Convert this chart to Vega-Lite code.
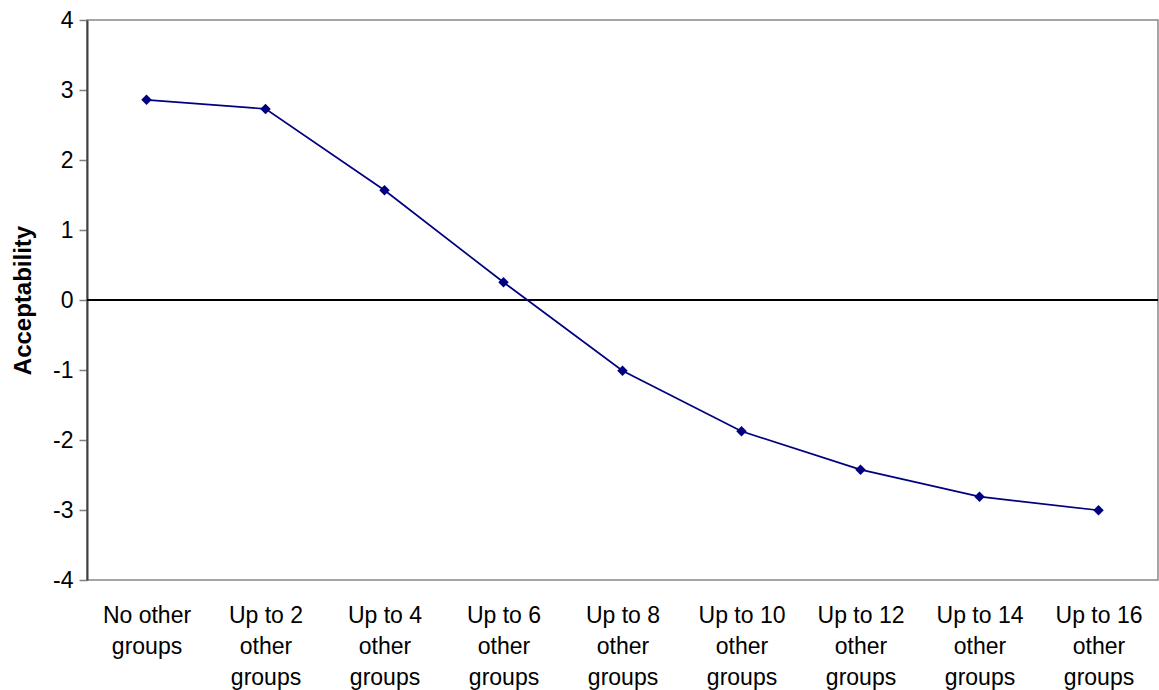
{
  "$schema": "https://vega.github.io/schema/vega-lite/v6.json",
  "autosize": {"type": "none"},
  "width": 1071,
  "height": 560,
  "padding": {"left": 87, "top": 20, "right": 1, "bottom": 110},
  "background": "white",
  "config": {
    "view": {"stroke": "#888888", "strokeWidth": 1.5},
    "font": "Liberation Sans"
  },
  "data": {
    "values": [
      {"group": "No other|groups", "acceptability": 2.86},
      {"group": "Up to 2|other|groups", "acceptability": 2.73},
      {"group": "Up to 4|other|groups", "acceptability": 1.567},
      {"group": "Up to 6|other|groups", "acceptability": 0.253},
      {"group": "Up to 8|other|groups", "acceptability": -1.01},
      {"group": "Up to 10|other|groups", "acceptability": -1.876},
      {"group": "Up to 12|other|groups", "acceptability": -2.424},
      {"group": "Up to 14|other|groups", "acceptability": -2.81},
      {"group": "Up to 16|other|groups", "acceptability": -3.004}
    ]
  },
  "layer": [
    {
      "mark": {"type": "rule", "color": "#000000", "strokeWidth": 1},
      "encoding": {"y": {"datum": 0, "type": "quantitative"}}
    },
    {
      "mark": {
        "type": "line",
        "color": "#000080",
        "strokeWidth": 1.7,
        "point": {"shape": "diamond", "size": 110, "filled": true, "color": "#000080"}
      },
      "encoding": {
        "x": {
          "field": "group",
          "type": "ordinal",
          "sort": null,
          "axis": {
            "title": null,
            "labelAngle": 0,
            "labelExpr": "split(datum.value, '|')",
            "labelFontSize": 23,
            "labelLineHeight": 31,
            "labelColor": "#000000",
            "labelPadding": 35,
            "labelBaseline": "middle",
            "ticks": false,
            "domain": false
          }
        },
        "y": {
          "field": "acceptability",
          "type": "quantitative",
          "scale": {"domain": [-4, 4], "nice": false, "zero": false},
          "axis": {
            "values": [-4, -3, -2, -1, 0, 1, 2, 3, 4],
            "labelExpr": "datum.value + ''",
            "grid": false,
            "labelFontSize": 23,
            "labelColor": "#000000",
            "labelPadding": 6,
            "tickSize": 8,
            "tickColor": "#808080",
            "tickWidth": 1.5,
            "domainColor": "#404040",
            "domainWidth": 2,
            "title": "Acceptability",
            "titleFontSize": 24,
            "titleFontWeight": "bold",
            "titleColor": "#000000",
            "titleAngle": -90,
            "titleX": -64,
            "titleY": 280,
            "titleAlign": "center",
            "titleBaseline": "middle"
          }
        }
      }
    }
  ]
}
